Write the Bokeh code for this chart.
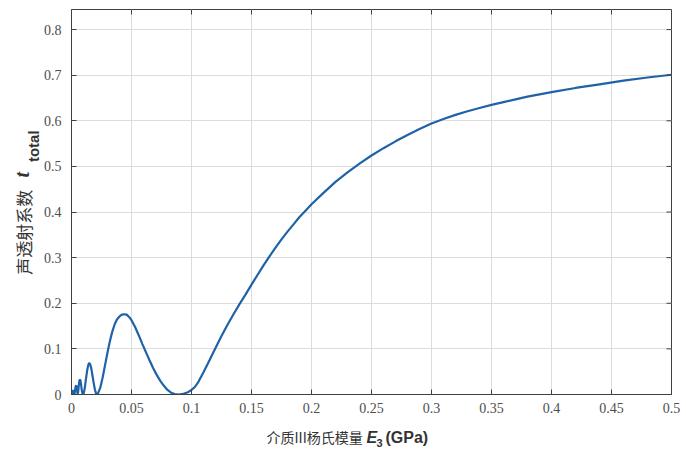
import math
from bokeh.plotting import figure
from bokeh.models import FixedTicker, Range1d
from bokeh.layouts import row, column
from bokeh.core.properties import value
from bokeh.embed import file_html
from bokeh.resources import INLINE

# ---- data ----
E3_gpa = [0.000, 0.001, 0.0015, 0.002, 0.0025, 0.003, 0.0035, 0.004, 0.0045, 0.005,
          0.0055, 0.006, 0.0065, 0.007, 0.0075, 0.008, 0.0085, 0.009, 0.0095, 0.010,
          0.011, 0.012, 0.013, 0.014, 0.0147, 0.0155, 0.0165, 0.0175, 0.0185, 0.0195,
          0.0205, 0.021, 0.022, 0.024, 0.026, 0.028, 0.030, 0.032, 0.034, 0.036,
          0.038, 0.040, 0.042, 0.044, 0.046, 0.048, 0.050, 0.053, 0.056, 0.059,
          0.062, 0.065, 0.068, 0.071, 0.074, 0.077, 0.080, 0.083, 0.086, 0.090,
          0.094, 0.097, 0.100, 0.103, 0.106, 0.110, 0.115, 0.120, 0.125, 0.130,
          0.135, 0.140, 0.145, 0.150, 0.155, 0.160, 0.165, 0.170, 0.175, 0.180,
          0.185, 0.190, 0.195, 0.200, 0.210, 0.220, 0.230, 0.240, 0.250, 0.260,
          0.270, 0.280, 0.290, 0.300, 0.310, 0.320, 0.330, 0.340, 0.350, 0.360,
          0.370, 0.380, 0.390, 0.400, 0.420, 0.440, 0.460, 0.480, 0.500]
t_total = [0.000, 0.004, 0.010, 0.004, 0.000, 0.010, 0.018, 0.020, 0.012, 0.002,
           0.004, 0.018, 0.029, 0.033, 0.030, 0.021, 0.011, 0.004, 0.000, 0.001,
           0.013, 0.033, 0.052, 0.065, 0.069, 0.067, 0.057, 0.041, 0.025, 0.011,
           0.002, 0.000, 0.002, 0.015, 0.038, 0.065, 0.092, 0.117, 0.138, 0.154,
           0.165, 0.171, 0.175, 0.176, 0.175, 0.170, 0.163, 0.148, 0.130, 0.111,
           0.093, 0.075, 0.058, 0.043, 0.030, 0.019, 0.010, 0.004, 0.001, 0.000,
           0.002, 0.005, 0.010, 0.017, 0.029, 0.049, 0.075, 0.102, 0.128, 0.153,
           0.176, 0.198, 0.219, 0.241, 0.262, 0.283, 0.303, 0.322, 0.340, 0.357,
           0.373, 0.389, 0.403, 0.417, 0.442, 0.466, 0.487, 0.506, 0.524, 0.540,
           0.555, 0.569, 0.582, 0.594, 0.604, 0.613, 0.621, 0.628, 0.635, 0.641,
           0.647, 0.653, 0.658, 0.663, 0.672, 0.680, 0.688, 0.695, 0.701]

x_ticks = [0, 0.05, 0.1, 0.15, 0.2, 0.25, 0.3, 0.35, 0.4, 0.45, 0.5]
x_tick_labels = ["0", "0.05", "0.1", "0.15", "0.2", "0.25", "0.3", "0.35", "0.4", "0.45", "0.5"]
y_ticks = [0, 0.1, 0.2, 0.3, 0.4, 0.5, 0.6, 0.7, 0.8]
y_tick_labels = ["0", "0.1", "0.2", "0.3", "0.4", "0.5", "0.6", "0.7", "0.8"]

X_MAX, Y_MAX = 0.5, 0.844
YL_W = 40            # width of the strip holding the y-axis title
PW, PH = 640, 424    # main plot
XL_H = 31            # height of the strip holding the x-axis title

p = figure(width=PW, height=PH, x_range=(0, X_MAX), y_range=(0, Y_MAX),
           output_backend="svg", toolbar_location=None,
           min_border_left=31, min_border_right=9, min_border_top=9, min_border_bottom=30)
p.background_fill_color = "white"
p.border_fill_color = "white"
p.outline_line_color = "#404040"
p.outline_line_width = 1

p.xgrid.ticker = FixedTicker(ticks=x_ticks)
p.ygrid.ticker = FixedTicker(ticks=y_ticks)
p.grid.grid_line_color = "#dcdcdc"
p.grid.grid_line_width = 1

p.line(E3_gpa, t_total, line_color="#1f63a6", line_width=2.2)

for ax, ticks, labels in ((p.xaxis[0], x_ticks, x_tick_labels), (p.yaxis[0], y_ticks, y_tick_labels)):
    ax.ticker = FixedTicker(ticks=ticks)
    ax.major_label_overrides = {t: l for t, l in zip(ticks, labels)}
    ax.major_label_text_font = "Liberation Serif"
    ax.major_label_text_font_size = "14px"
    ax.major_label_text_color = "#4d4d4d"
    ax.major_tick_in = 5
    ax.major_tick_out = 0
    ax.minor_tick_line_color = None
    ax.axis_line_color = "#404040"
    ax.major_tick_line_color = "#404040"
p.xaxis.major_label_standoff = 8
p.yaxis.major_label_standoff = 10

# mirrored tick marks on the top and right edges (box on)
p.ray(x=x_ticks, y=[Y_MAX] * len(x_ticks), length=5, length_units="screen",
      angle=-math.pi / 2, line_color="#404040", line_width=1)
p.ray(x=[X_MAX] * len(y_ticks), y=y_ticks, length=5, length_units="screen",
      angle=math.pi, line_color="#404040", line_width=1)

# ---- title strips (pixel ranges, y pointing down) ----
def strip(w, h, y0):
    f = figure(width=w, height=h, x_range=Range1d(0, w), y_range=Range1d(y0 + h, y0),
               output_backend="svg", toolbar_location=None,
               min_border=0, min_border_left=0, min_border_right=0,
               min_border_top=0, min_border_bottom=0)
    f.axis.visible = False
    f.grid.visible = False
    f.outline_line_color = None
    f.background_fill_color = "white"
    f.border_fill_color = "white"
    return f

lab_color = "#333333"
cjk = "Noto Sans CJK SC"

def put(f, x, y, text, font, size, style="normal", angle=0.0):
    f.text(x=[x], y=[y], text=[text], angle=angle, text_font=value(font),
           text_font_size=value(size), text_font_style=style, text_color=lab_color,
           text_align="left", text_baseline="middle")

fy = strip(YL_W, PH, 0)
put(fy, 22.5, 292, "声透射系数", cjk, "17px", angle=math.pi / 2)
put(fy, 21.5, 185, "t", "Liberation Serif", "20px", "bold italic", angle=math.pi / 2)
put(fy, 32.5, 168, "total", "Liberation Sans", "15px", "bold", angle=math.pi / 2)

fx = strip(YL_W + PW, XL_H, PH)
put(fx, 266, 436.5, "介质III杨氏模量", cjk, "14px")
put(fx, 366, 436.5, "E", "Liberation Sans", "16px", "bold italic")
put(fx, 376, 442, "3", "Liberation Sans", "11px", "bold")
put(fx, 385, 436.5, "(GPa)", "Liberation Sans", "16px", "bold")

layout = column(row(fy, p, spacing=0), fx, spacing=0)
open("out.html", "w").write(file_html(layout, INLINE))
